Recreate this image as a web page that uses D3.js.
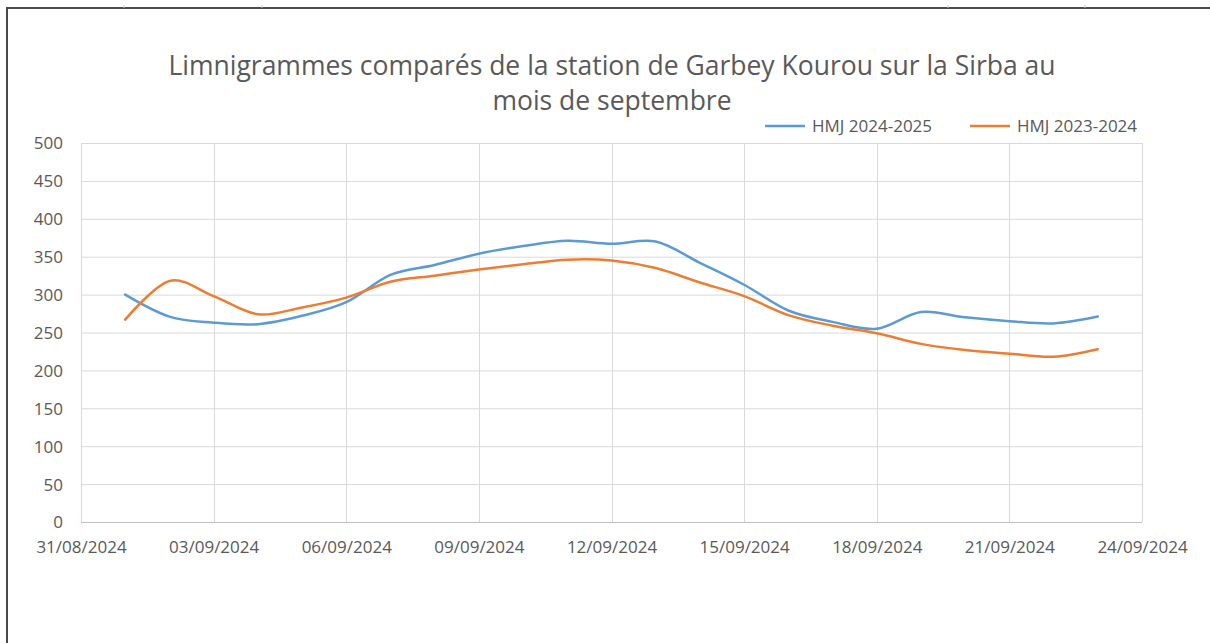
<!DOCTYPE html>
<html>
<head>
<meta charset="utf-8">
<script src="https://cdn.jsdelivr.net/npm/d3@7"></script>
<style>
  body { margin: 0; background: #fff; }
  svg { display: block; }
</style>
</head>
<body>
<div class="chart"></div>
<script>
// jours de septembre (1 -> 23)
var days = ["2024-09-01","2024-09-02","2024-09-03","2024-09-04","2024-09-05","2024-09-06",
  "2024-09-07","2024-09-08","2024-09-09","2024-09-10","2024-09-11","2024-09-12",
  "2024-09-13","2024-09-14","2024-09-15","2024-09-16","2024-09-17","2024-09-18",
  "2024-09-19","2024-09-20","2024-09-21","2024-09-22","2024-09-23"];

var hmj2024 = [300, 271, 263, 261, 272, 290, 326, 339, 354, 364, 371, 367,
  370, 342, 313, 279, 264, 255, 277, 270, 265, 262, 271];

var hmj2023 = [267, 318, 298, 274, 283, 296, 317, 325, 333, 340, 346, 345,
  335, 316, 298, 273, 259, 249, 235, 227, 222, 218, 228];

var seriesNames = ["HMJ 2024-2025", "HMJ 2023-2024"];
var seriesColors = ["#5b9bd5", "#ed7d31"];

var xTickLabels = ["31/08/2024","03/09/2024","06/09/2024","09/09/2024","12/09/2024",
  "15/09/2024","18/09/2024","21/09/2024","24/09/2024"];
var yTicks = [0, 50, 100, 150, 200, 250, 300, 350, 400, 450, 500];

var W = 1210, H = 643;
var plot = { left: 81, right: 1142, top: 143, bottom: 522 };

var parseDay = d3.timeParse("%Y-%m-%d");
var parseTick = d3.timeParse("%d/%m/%Y");

var svg = d3.select('.chart').append('svg').attr('width', W).attr('height', H);

// cadre de la feuille
svg.append('path')
  .attr('d', 'M7,' + H + 'V8H' + W)
  .attr('fill', 'none').attr('stroke', '#4a4a4a').attr('stroke-width', 2);
[124, 262, 948, 1085].forEach(function (x) {
  svg.append('line').attr('x1', x).attr('x2', x).attr('y1', 5).attr('y2', 8)
    .attr('stroke', '#c8c8c8');
});

var x = d3.scaleTime()
  .domain([parseTick("31/08/2024"), parseTick("24/09/2024")])
  .range([plot.left, plot.right]);
var y = d3.scaleLinear().domain([0, 500]).range([plot.bottom, plot.top]);

var tickDates = xTickLabels.map(function (s) { return parseTick(s); });

// grille
svg.append('g').selectAll('line.h')
  .data(yTicks).enter().append('line')
  .attr('x1', plot.left).attr('x2', plot.right)
  .attr('y1', function (d) { return y(d) + 0.5; })
  .attr('y2', function (d) { return y(d) + 0.5; })
  .attr('stroke', function (d) { return d === 0 ? '#bfbfbf' : '#d9d9d9'; })
  .attr('stroke-width', 1);

svg.append('g').selectAll('line.v')
  .data(tickDates).enter().append('line')
  .attr('x1', function (d) { return Math.round(x(d)) + 0.5; })
  .attr('x2', function (d) { return Math.round(x(d)) + 0.5; })
  .attr('y1', plot.top).attr('y2', plot.bottom)
  .attr('stroke', '#d9d9d9').attr('stroke-width', 1);

// axes
var labelFont = '"Open Sans", sans-serif';

var yAxis = svg.append('g')
  .attr('transform', 'translate(' + (plot.left - 10) + ',0)')
  .call(d3.axisLeft(y).tickValues(yTicks).tickSize(0).tickPadding(8));
yAxis.select('.domain').remove();
yAxis.selectAll('text').attr('font-family', labelFont).attr('font-size', 17)
  .attr('fill', '#595959').attr('dy', '0.35em');

var xAxis = svg.append('g')
  .attr('transform', 'translate(0,' + plot.bottom + ')')
  .call(d3.axisBottom(x).tickValues(tickDates).tickSize(0).tickPadding(19)
    .tickFormat(d3.timeFormat("%d/%m/%Y")));
xAxis.select('.domain').remove();
xAxis.selectAll('text').attr('font-family', labelFont).attr('font-size', 17)
  .attr('fill', '#595959');

// courbes lissées
var line = d3.line()
  .x(function (d) { return x(d.date); })
  .y(function (d) { return y(d.value); })
  .curve(d3.curveCardinal.tension(0));

[hmj2024, hmj2023].forEach(function (vals, i) {
  var pts = vals.map(function (v, j) { return { date: parseDay(days[j]), value: v }; });
  svg.append('path')
    .datum(pts)
    .attr('d', line)
    .attr('fill', 'none')
    .attr('stroke', seriesColors[i])
    .attr('stroke-width', 2.5)
    .attr('stroke-linecap', 'round');
});

// titre
var title = svg.append('text')
  .attr('text-anchor', 'middle')
  .attr('font-family', '"Open Sans", sans-serif')
  .attr('font-size', 26.5)
  .attr('fill', '#595959');
title.append('tspan').attr('x', 612).attr('y', 75)
  .text("Limnigrammes comparés de la station de Garbey Kourou sur la Sirba au");
title.append('tspan').attr('x', 612).attr('y', 110).text("mois de septembre");

// légende
var legendX = [765, 970];
seriesNames.forEach(function (name, i) {
  var g = svg.append('g').attr('transform', 'translate(' + legendX[i] + ',126)');
  g.append('line').attr('x1', 0).attr('x2', 40).attr('y1', 0).attr('y2', 0)
    .attr('stroke', seriesColors[i]).attr('stroke-width', 2.5);
  g.append('text').attr('x', 47).attr('y', 0).attr('dy', '0.35em')
    .attr('font-family', labelFont).attr('font-size', 17)
    .attr('fill', '#595959').text(name);
});
</script>
</body>
</html>
